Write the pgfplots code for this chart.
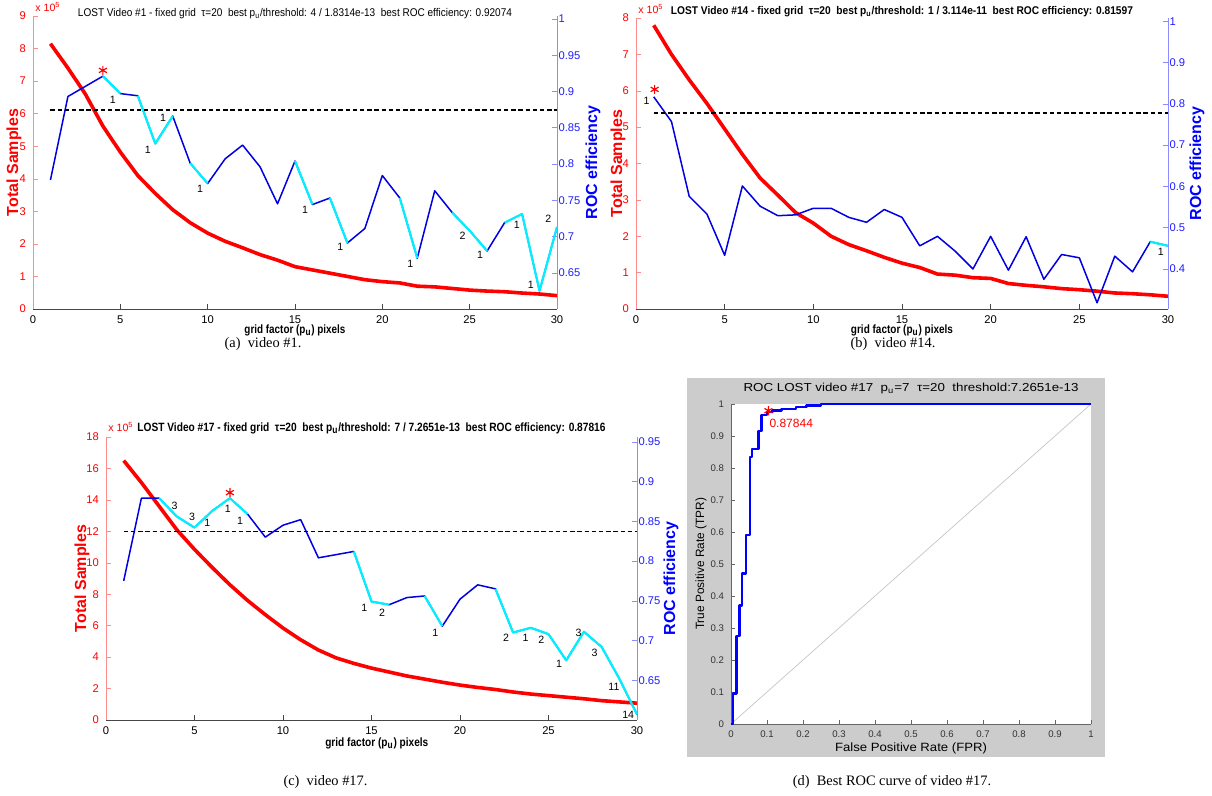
\documentclass[border=0pt]{standalone}
\usepackage{fontspec}
\setmainfont{Liberation Serif}
\newfontfamily\hv{Liberation Sans}
\usepackage{graphicx}
\usepackage{pgfplots}
\pgfplotsset{compat=1.18}

\definecolor{axred}{RGB}{255,140,140}
\definecolor{lred}{RGB}{255,0,0}
\definecolor{axblue}{RGB}{140,140,255}
\definecolor{lblue}{RGB}{30,30,255}
\definecolor{rblue}{RGB}{0,0,225}
\definecolor{rcyan}{RGB}{0,240,255}
\definecolor{figgray}{RGB}{204,204,204}
\definecolor{axgray}{RGB}{70,70,70}

\newcommand{\tl}{\hv\fontsize{5.6}{6.5}\selectfont}
\newcommand{\an}{\hv\fontsize{5.3}{6}\selectfont}
\newcommand{\bl}{\hv\bfseries\fontsize{8}{9}\selectfont}

\pgfplotsset{
  base/.style={scale only axis, anchor=south west, clip=false, tick align=inside,
     major tick length=2.5pt, tick label style={font=\tl},
     /pgf/number format/assume math mode=true, axis line style={-}},
  leftax/.style={base, xmin=0, xmax=30, xtick={0,5,10,15,20,25,30},
     axis x line*=bottom, axis y line*=left,
     x axis line style={draw=axgray}, xtick style={draw=axgray}, xticklabel style={text=black},
     y axis line style={draw=axred}, ytick style={draw=axred}, yticklabel style={text=lred}},
  rightax/.style={base, xmin=0, xmax=30, axis x line=none, axis y line*=right,
     y axis line style={draw=axblue}, ytick style={draw=axblue}, yticklabel style={text=lblue, inner xsep=0.6pt}},
  redc/.style={draw=red, line width=1.8pt, line join=round},
  bluec/.style={draw=rblue, line width=0.75pt, line join=round},
  cyanc/.style={draw=rcyan, line width=1.1pt, line join=round, unbounded coords=jump},
  dashc/.style={draw=black, line width=0.8pt, dash pattern=on 2.2pt off 1.4pt},
  starc/.style={only marks, mark=asterisk, mark size=2.3pt, mark options={draw=red, line width=0.6pt}},
}

\begin{document}
\begin{tikzpicture}
\path[use as bounding box] (0pt,0pt) rectangle (606pt,398pt);

% ================= (a) video #1 =================
\begin{axis}[leftax, at={(16.5pt,243.5pt)}, width=262pt, height=146.5pt, ymin=0, ymax=9, ytick={0,1,2,3,4,5,6,7,8,9}]
\addplot[redc] coordinates {(1,8.15)(2,7.4)(3,6.6)(4,5.62)(5,4.82)(6,4.1)(7,3.55)(8,3.05)(9,2.65)(10,2.33)(11,2.08)(12,1.88)(13,1.67)(14,1.5)(15,1.3)(16,1.2)(17,1.1)(18,1.0)(19,0.9)(20,0.84)(21,0.8)(22,0.7)(23,0.68)(24,0.63)(25,0.58)(26,0.55)(27,0.53)(28,0.49)(29,0.46)(30,0.41)};
\node[anchor=base west, inner sep=0pt, text=red, font=\an, xshift=1pt, yshift=2.3pt] at (rel axis cs:0,1) {x 10\textsuperscript{5}};
\node[xshift=-9.5pt, rotate=90, text=red, font=\bl] at (rel axis cs:0,0.5) {Total Samples};
\node[anchor=base, inner sep=0pt, yshift=-12.5pt, font=\hv\bfseries\fontsize{6}{7}\selectfont] at (rel axis cs:0.5,0) {\resizebox{50.5pt}{\height}{grid factor (p\textsubscript{u}) pixels}};
\node[anchor=base, inner sep=0pt, font=\hv\fontsize{5.6}{6.5}\selectfont] at (rel axis cs:0.5,1) {\resizebox{217pt}{\height}{LOST Video \#1 - fixed grid\ \ τ=20\ \ best p\textsubscript{u}/threshold: 4 / 1.8314e-13\ \ best ROC efficiency: 0.92074}};
\end{axis}
\begin{axis}[rightax, at={(16.5pt,243.5pt)}, width=262pt, height=146.5pt, ymin=0.6, ymax=1.004, ytick={0.65,0.7,0.75,0.8,0.85,0.9,0.95,1}]
\addplot[bluec] coordinates {(1,0.778)(2,0.893)(3,0.907)(4,0.921)(5,0.897)(6,0.894)(7,0.828)(8,0.866)(9,0.801)(10,0.773)(11,0.807)(12,0.826)(13,0.796)(14,0.745)(15,0.804)(16,0.744)(17,0.753)(18,0.691)(19,0.711)(20,0.784)(21,0.753)(22,0.670)(23,0.763)(24,0.733)(25,0.708)(26,0.680)(27,0.719)(28,0.731)(29,0.625)(30,0.713)};
\addplot[cyanc] coordinates {(4,0.921)(5,0.897)(5.5,nan)(6,0.894)(7,0.828)(8,0.866)(8.5,nan)(9,0.801)(10,0.773)(10.5,nan)(15,0.804)(16,0.744)(16.5,nan)(17,0.753)(18,0.691)(18.5,nan)(21,0.753)(22,0.670)(22.5,nan)(24,0.733)(25,0.708)(26,0.680)(26.5,nan)(27,0.719)(28,0.731)(29,0.625)(30,0.713)};
\addplot[dashc] coordinates {(1,0.874)(30,0.874)};
\addplot[starc] coordinates {(4,0.929)};
\node[xshift=18pt, rotate=90, text=blue, font=\bl] at (rel axis cs:1,0.5) {ROC efficiency};
\node[font=\an] at (axis cs:4.57,0.888) {1};
\node[font=\an] at (axis cs:7.44,0.863) {1};
\node[font=\an] at (axis cs:6.57,0.820) {1};
\node[font=\an] at (axis cs:9.57,0.765) {1};
\node[font=\an] at (axis cs:15.58,0.737) {1};
\node[font=\an] at (axis cs:17.6,0.685) {1};
\node[font=\an] at (axis cs:21.6,0.662) {1};
\node[font=\an] at (axis cs:24.6,0.701) {2};
\node[font=\an] at (axis cs:25.6,0.674) {1};
\node[font=\an] at (axis cs:27.7,0.716) {1};
\node[font=\an] at (axis cs:28.5,0.633) {1};
\node[font=\an] at (axis cs:29.5,0.725) {2};
\end{axis}

% ================= (b) video #14 =================
\begin{axis}[leftax, at={(318pt,243.5pt)}, width=266pt, height=145.5pt, ymin=0, ymax=8, ytick={0,1,2,3,4,5,6,7,8}]
\addplot[redc] coordinates {(1,7.8)(2,7.0)(3,6.3)(4,5.65)(5,4.95)(6,4.25)(7,3.6)(8,3.13)(9,2.65)(10,2.36)(11,2.0)(12,1.77)(13,1.6)(14,1.42)(15,1.26)(16,1.14)(17,0.96)(18,0.93)(19,0.86)(20,0.84)(21,0.70)(22,0.65)(23,0.61)(24,0.56)(25,0.53)(26,0.49)(27,0.44)(28,0.42)(29,0.39)(30,0.35)};
\node[anchor=base west, inner sep=0pt, text=red, font=\an, xshift=1pt, yshift=2.3pt] at (rel axis cs:0,1) {x 10\textsuperscript{5}};
\node[xshift=-9pt, rotate=90, text=red, font=\bl] at (rel axis cs:0,0.5) {Total Samples};
\node[anchor=base, inner sep=0pt, yshift=-12.5pt, font=\hv\bfseries\fontsize{6}{7}\selectfont] at (rel axis cs:0.5,0) {\resizebox{51pt}{\height}{grid factor (p\textsubscript{u}) pixels}};
\node[anchor=base, inner sep=0pt, yshift=1.7pt, font=\hv\bfseries\fontsize{5.6}{6.5}\selectfont] at (rel axis cs:0.5,1) {\resizebox{231pt}{\height}{LOST Video \#14 - fixed grid\ \ τ=20\ \ best p\textsubscript{u}/threshold: 1 / 3.114e-11\ \ best ROC efficiency: 0.81597}};
\end{axis}
\begin{axis}[rightax, at={(318pt,243.5pt)}, width=266pt, height=145.5pt, ymin=0.303, ymax=1.008, ytick={0.4,0.5,0.6,0.7,0.8,0.9,1}]
\addplot[bluec] coordinates {(1,0.817)(2,0.757)(3,0.576)(4,0.533)(5,0.433)(6,0.601)(7,0.552)(8,0.529)(9,0.531)(10,0.547)(11,0.547)(12,0.525)(13,0.513)(14,0.544)(15,0.525)(16,0.456)(17,0.479)(18,0.443)(19,0.400)(20,0.479)(21,0.397)(22,0.478)(23,0.375)(24,0.435)(25,0.427)(26,0.318)(27,0.431)(28,0.393)(29,0.466)(30,0.456)};
\addplot[cyanc] coordinates {(29,0.466)(30,0.456)};
\addplot[dashc] coordinates {(1,0.778)(30,0.778)};
\addplot[starc] coordinates {(1.05,0.835)};
\node[xshift=14.5pt, rotate=90, text=blue, font=\bl] at (rel axis cs:1,0.5) {ROC efficiency};
\node[font=\an] at (axis cs:0.6,0.807) {1};
\node[font=\an] at (axis cs:29.6,0.441) {1};
\end{axis}

% ================= (c) video #17 =================
\begin{axis}[leftax, at={(53pt,38pt)}, width=265.5pt, height=141.5pt, ymin=0, ymax=18, ytick={0,2,4,6,8,10,12,14,16,18}]
\addplot[redc] coordinates {(1,16.5)(2,15.1)(3,13.6)(4,12.1)(5,10.85)(6,9.7)(7,8.6)(8,7.6)(9,6.7)(10,5.85)(11,5.1)(12,4.45)(13,3.95)(14,3.6)(15,3.3)(16,3.05)(17,2.8)(18,2.6)(19,2.4)(20,2.22)(21,2.07)(22,1.94)(23,1.78)(24,1.65)(25,1.55)(26,1.45)(27,1.35)(28,1.23)(29,1.15)(30,1.07)};
\node[anchor=base west, inner sep=0pt, text=red, font=\an, xshift=1pt, yshift=2.5pt] at (rel axis cs:0,1) {x 10\textsuperscript{5}};
\node[xshift=-12pt, rotate=90, text=red, font=\bl] at (rel axis cs:0,0.5) {Total Samples};
\node[anchor=base, inner sep=0pt, yshift=-13.5pt, font=\hv\bfseries\fontsize{6}{7}\selectfont] at (rel axis cs:0.51,0) {\resizebox{51.5pt}{\height}{grid factor (p\textsubscript{u}) pixels}};
\node[anchor=base, inner sep=0pt, yshift=2.7pt, font=\hv\bfseries\fontsize{6}{7}\selectfont] at (rel axis cs:0.5,1) {\resizebox{234pt}{\height}{LOST Video \#17 - fixed grid\ \ τ=20\ \ best p\textsubscript{u}/threshold: 7 / 7.2651e-13\ \ best ROC efficiency: 0.87816}};
\end{axis}
\begin{axis}[rightax, at={(53pt,38pt)}, width=265.5pt, height=141.5pt, ymin=0.6, ymax=0.956, ytick={0.65,0.7,0.75,0.8,0.85,0.9,0.95}]
\addplot[bluec] coordinates {(1,0.775)(2,0.879)(3,0.879)(4,0.856)(5,0.842)(6,0.863)(7,0.879)(8,0.859)(9,0.830)(10,0.845)(11,0.852)(12,0.804)(13,0.808)(14,0.812)(15,0.749)(16,0.745)(17,0.754)(18,0.756)(19,0.718)(20,0.752)(21,0.770)(22,0.765)(23,0.710)(24,0.716)(25,0.708)(26,0.675)(27,0.711)(28,0.692)(29,0.652)(30,0.607)};
\addplot[cyanc] coordinates {(3,0.879)(4,0.856)(5,0.842)(6,0.863)(7,0.879)(8,0.859)(8.5,nan)(14,0.812)(15,0.749)(16,0.745)(16.5,nan)(18,0.756)(19,0.718)(19.5,nan)(22,0.765)(23,0.710)(24,0.716)(25,0.708)(26,0.675)(27,0.711)(28,0.692)(29,0.652)(30,0.607)};
\addplot[dashc] coordinates {(1,0.837)(30,0.837)};
\addplot[starc] coordinates {(7,0.886)};
\node[xshift=17pt, rotate=90, text=blue, font=\bl] at (rel axis cs:1,0.5) {ROC efficiency};
\node[font=\an] at (axis cs:3.87,0.869) {3};
\node[font=\an] at (axis cs:4.86,0.855) {3};
\node[font=\an] at (axis cs:5.72,0.848) {1};
\node[font=\an] at (axis cs:6.88,0.866) {1};
\node[font=\an] at (axis cs:7.58,0.850) {1};
\node[font=\an] at (axis cs:14.6,0.741) {1};
\node[font=\an] at (axis cs:15.6,0.735) {2};
\node[font=\an] at (axis cs:18.6,0.709) {1};
\node[font=\an] at (axis cs:22.6,0.703) {2};
\node[font=\an] at (axis cs:23.7,0.703) {1};
\node[font=\an] at (axis cs:24.6,0.701) {2};
\node[font=\an] at (axis cs:25.6,0.670) {1};
\node[font=\an] at (axis cs:26.7,0.710) {3};
\node[font=\an] at (axis cs:27.6,0.685) {3};
\node[font=\an] at (axis cs:28.7,0.642) {11};
\node[font=\an] at (axis cs:29.5,0.607) {14};
\end{axis}

% ================= (d) ROC curve =================
\fill[figgray] (343.5pt,19.5pt) rectangle (552.5pt,209pt);
\begin{axis}[base, at={(365.5pt,36pt)}, width=180pt, height=160pt,
  xmin=0, xmax=1, ymin=0, ymax=1,
  xtick={0,0.1,0.2,0.3,0.4,0.5,0.6,0.7,0.8,0.9,1},
  ytick={0,0.1,0.2,0.3,0.4,0.5,0.6,0.7,0.8,0.9,1},
  axis x line*=bottom, axis y line*=left,
  axis background/.style={fill=white},
  axis line style={draw=black!60}, tick style={draw=black!60},
  major tick length=2pt,
  tick label style={font=\hv\fontsize{4.8}{5.5}\selectfont, text=black!80}]
\addplot[draw=black!25, line width=0.3pt] coordinates {(0,0)(1,1)};
\addplot[draw=blue, line width=1.2pt, line join=round] coordinates {(0,0)(0.005,0)(0.005,0.095)(0.015,0.095)(0.015,0.275)(0.024,0.275)(0.024,0.37)(0.031,0.37)(0.031,0.47)(0.041,0.47)(0.041,0.59)(0.052,0.59)(0.052,0.835)(0.059,0.835)(0.059,0.86)(0.076,0.86)(0.076,0.915)(0.085,0.915)(0.085,0.965)(0.1,0.965)(0.1,0.975)(0.115,0.975)(0.115,0.98)(0.14,0.98)(0.14,0.985)(0.18,0.985)(0.18,0.99)(0.21,0.99)(0.21,0.995)(0.25,0.995)(0.25,1)(1,1)};
\addplot[starc] coordinates {(0.104,0.979)};
\node[anchor=base west, inner sep=0pt, text=red, font=\hv\fontsize{6}{7}\selectfont] at (axis cs:0.106,0.928) {0.87844};
\node[anchor=base, inner sep=0pt, yshift=6pt, font=\hv\fontsize{5.8}{7}\selectfont] at (rel axis cs:0.5,1) {\resizebox{167.5pt}{\height}{ROC LOST video \#17\ \ p\textsubscript{u}=7\ \ τ=20\ \ threshold:7.2651e-13}};
\node[anchor=base, inner sep=0pt, yshift=-14pt, font=\hv\fontsize{6}{7}\selectfont] at (rel axis cs:0.5,0) {\resizebox{76pt}{\height}{False Positive Rate (FPR)}};
\node[xshift=-15pt, rotate=90, font=\hv\fontsize{6}{7}\selectfont] at (rel axis cs:0,0.5) {\resizebox{66pt}{\height}{True Positive Rate (TPR)}};
\end{axis}

% ================= captions =================
\node[anchor=base, font=\fontsize{7.2}{8}\selectfont] at (131.5pt,224pt) {(a)\ \ video \#1.};
\node[anchor=base, font=\fontsize{7.2}{8}\selectfont] at (446.5pt,224pt) {(b)\ \ video \#14.};
\node[anchor=base, font=\fontsize{7.2}{8}\selectfont] at (162.75pt,5pt) {(c)\ \ video \#17.};
\node[anchor=base, font=\fontsize{7.2}{8}\selectfont] at (446pt,5pt) {(d)\ \ Best ROC curve of video \#17.};
\end{tikzpicture}
\end{document}
